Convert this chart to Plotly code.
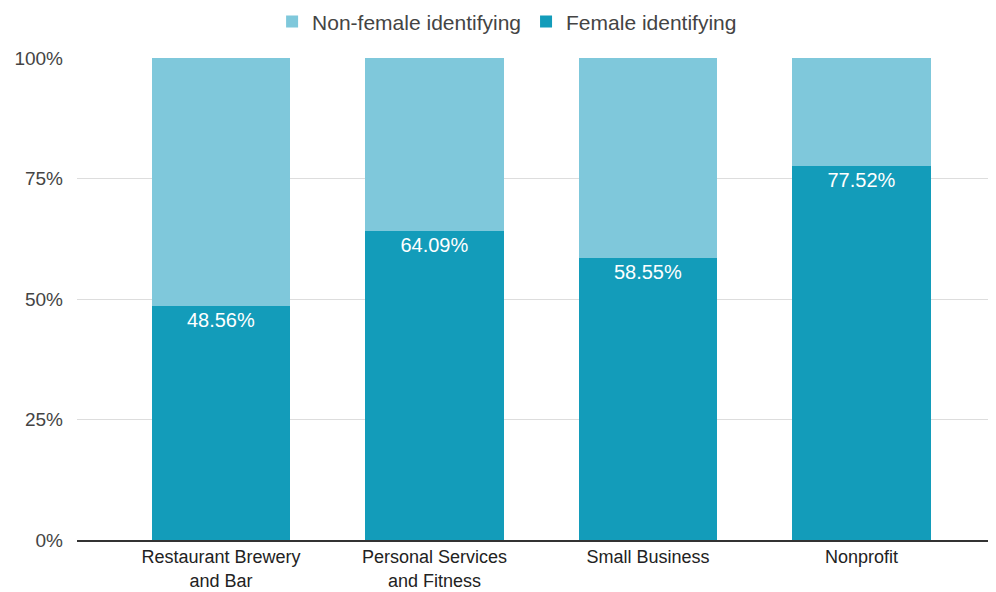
import plotly.graph_objects as go

categories = ["Restaurant Brewery<br>and Bar", "Personal Services<br>and Fitness", "Small Business", "Nonprofit"]
female = [48.56, 64.09, 58.55, 77.52]
non_female = [round(100 - v, 2) for v in female]
female_labels = ["48.56%", "64.09%", "58.55%", "77.52%"]

FONT = "Liberation Sans, Arial, sans-serif"

fig = go.Figure()
fig.add_trace(go.Bar(
    x=categories, y=[v / 100 for v in female], name="Female identifying",
    marker=dict(color="#139cba", line=dict(width=0)),
    text=female_labels, textposition="inside", insidetextanchor="end",
    textfont=dict(color="white", size=20, family=FONT),
    textangle=0,
))
fig.add_trace(go.Bar(
    x=categories, y=[v / 100 for v in non_female], name="Non-female identifying",
    marker=dict(color="#7fc8db", line=dict(width=0)),
))

fig.update_layout(
    barmode="stack",
    bargap=0.35,
    width=988, height=584,
    margin=dict(l=69, r=0, t=50, b=52, autoexpand=False),
    plot_bgcolor="white", paper_bgcolor="white",
    font=dict(family=FONT, size=19, color="#444444"),
    legend=dict(orientation="h", traceorder="reversed", x=0.468, xanchor="center",
                y=1.075, yanchor="middle", font=dict(size=21, color="#444444"),
                itemwidth=30),
    xaxis=dict(range=[-0.674, 3.63], showgrid=False, showline=True, linecolor="#333333",
               linewidth=1.5, ticks="", tickfont=dict(size=18, color="#222222")),
    yaxis=dict(range=[0, 1], tickvals=[0, 0.25, 0.5, 0.75, 1.0],
               ticktext=["0%", "25%", "50%", "75%", "100%"],
               showgrid=True, gridcolor="#dddddd", gridwidth=1, zeroline=False,
               ticks="", tickfont=dict(size=19, color="#444444"), ticklabelstandoff=13),
)

fig.write_html("out.html")
